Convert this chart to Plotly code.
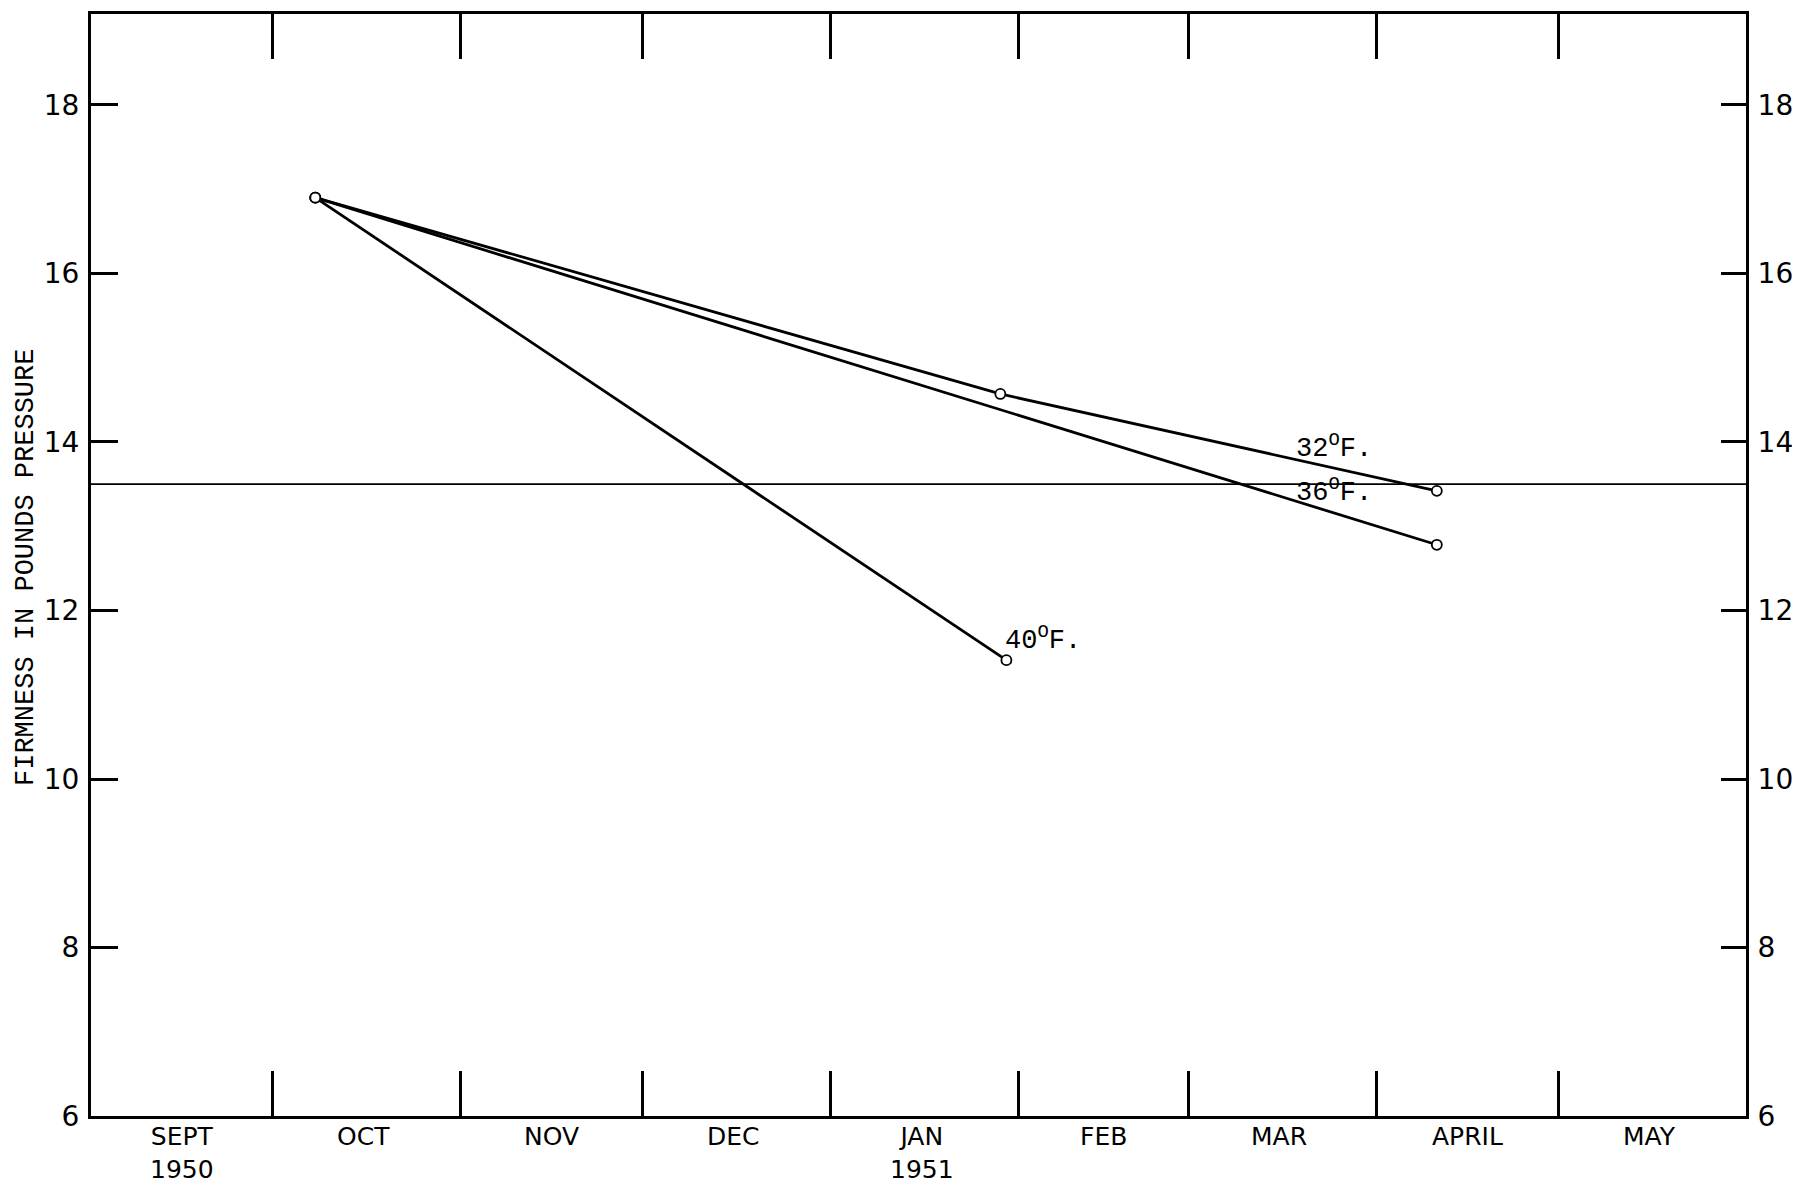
import plotly.graph_objects as go

# ---- data ----
months = ["SEPT", "OCT", "NOV", "DEC", "JAN", "FEB", "MAR", "APRIL", "MAY"]
month_starts = ["1950-09-01", "1950-10-01", "1950-11-01", "1950-12-01", "1951-01-01",
                "1951-02-01", "1951-03-01", "1951-04-01", "1951-05-01", "1951-06-01"]
month_mids = ["1950-09-16", "1950-10-16", "1950-11-16", "1950-12-16", "1951-01-16",
              "1951-02-15", "1951-03-16", "1951-04-16", "1951-05-16"]
year_labels = {"SEPT": "1950", "JAN": "1951"}

dates_32 = ["1950-10-08", "1951-01-29", "1951-04-11"]
firm_32 = [16.90, 14.57, 13.42]
dates_36 = ["1950-10-08", "1951-04-11"]
firm_36 = [16.90, 12.78]
dates_40 = ["1950-10-08", "1951-01-30"]
firm_40 = [16.90, 11.41]
threshold = 13.5

y_ticks = [6, 8, 10, 12, 14, 16, 18]
y_range = [6, 19.08]

mono = "Liberation Mono, Courier New, monospace"
sans = "DejaVu Sans, sans-serif"

fig = go.Figure()

# threshold line (on the right-hand axis, same scale)
fig.add_trace(go.Scatter(x=[month_starts[0], month_starts[-1]], y=[threshold, threshold],
                         mode="lines", line=dict(color="black", width=1.6),
                         yaxis="y2", showlegend=False, hoverinfo="skip"))

for xs, ys in [(dates_32, firm_32), (dates_36, firm_36), (dates_40, firm_40)]:
    fig.add_trace(go.Scatter(
        x=xs, y=ys, mode="lines+markers",
        line=dict(color="black", width=2.8),
        marker=dict(symbol="circle", size=10, color="white",
                    line=dict(color="black", width=1.8)),
        showlegend=False))

annotations = []
for m, xm in zip(months, month_mids):
    label = m + ("<br>" + year_labels[m] if m in year_labels else "")
    annotations.append(dict(x=xm, xref="x", y=0, yref="paper", yanchor="top",
                            yshift=-4, text=label, showarrow=False,
                            font=dict(family=sans, size=25, color="black")))

for txt, xd, yv in [("32<sup>O</sup>F.", "1951-03-25", 13.95),
                    ("36<sup>O</sup>F.", "1951-03-25", 13.42),
                    ("40<sup>O</sup>F.", "1951-02-05", 11.67)]:
    annotations.append(dict(x=xd, y=yv, xref="x", yref="y", text=txt, showarrow=False,
                            font=dict(family=mono, size=27, color="black")))

annotations.append(dict(x=0, xref="paper", xanchor="center", xshift=-65,
                        y=0.5, yref="paper", yanchor="middle", yshift=-3,
                        text="FIRMNESS IN POUNDS PRESSURE", textangle=-90, showarrow=False,
                        font=dict(family=mono, size=27, color="black")))

fig.update_layout(
    width=1792, height=1182,
    margin=dict(l=83, r=54, t=3, b=74),
    paper_bgcolor="white", plot_bgcolor="white",
    annotations=annotations,
    xaxis=dict(type="date", range=[month_starts[0], month_starts[-1]],
               tickmode="array", tickvals=month_starts[1:-1], showticklabels=False,
               ticks="inside", ticklen=45, tickwidth=3, tickcolor="black",
               showline=True, linecolor="black", linewidth=3, mirror="ticks",
               showgrid=False, zeroline=False),
    yaxis=dict(range=y_range, tickvals=y_ticks, ticks="inside", ticklen=27,
               tickwidth=3, tickcolor="black", showline=True, linecolor="black",
               linewidth=3, showgrid=False, zeroline=False, ticklabelstandoff=3,
               tickfont=dict(family=sans, size=28, color="black")),
    yaxis2=dict(range=y_range, tickvals=y_ticks, overlaying="y", side="right",
                ticks="inside", ticklen=25, tickwidth=3, tickcolor="black",
                showline=True, linecolor="black", linewidth=3, showgrid=False,
                zeroline=False, ticklabelstandoff=3,
                tickfont=dict(family=sans, size=28, color="black")),
)

fig.write_html("out.html")
